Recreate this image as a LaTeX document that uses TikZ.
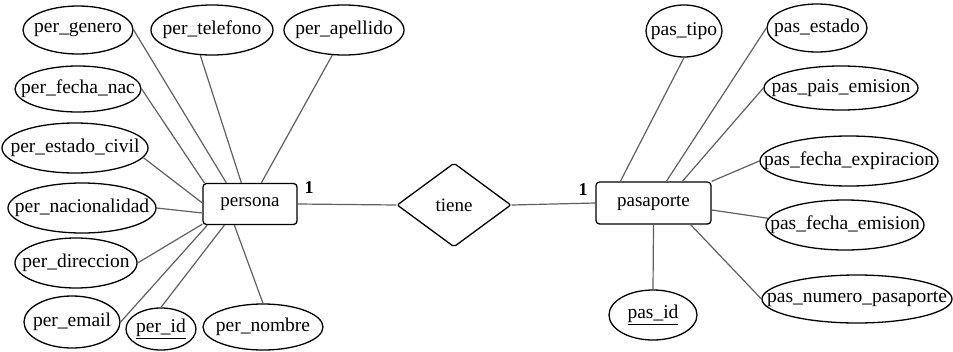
\documentclass[tikz,border=0pt]{standalone}
\usepackage{fontspec}
\setmainfont{Liberation Serif}
\usetikzlibrary{shapes.geometric}
\definecolor{edgegray}{HTML}{606060}
% attribute labels take no width, so each ellipse keeps exactly its given size
\newcommand\attrlabel[1]{\makebox[0pt][c]{#1}}
\begin{document}
\begin{tikzpicture}[x=1pt,y=-1pt,
  font=\fontsize{19pt}{22pt}\selectfont,
  attr/.style={ellipse,draw=black,line width=1.3pt,inner sep=0pt,font=\fontsize{19.5pt}{22pt}\selectfont},
  entity/.style={rectangle,draw=black,line width=1.3pt,rounded corners=3.5pt,inner sep=0pt},
  relation/.style={diamond,draw=black,line width=1.3pt,inner sep=0pt,rounded corners=2pt},
  link/.style={draw=edgegray,line width=1.2pt},
  card/.style={font=\fontsize{18pt}{20pt}\selectfont\bfseries,inner sep=0pt}]
\useasboundingbox (0,0) rectangle (953,351);

% entities and relationship
\node[entity,minimum width=94pt,minimum height=41pt] (persona) at (250,204) {persona};
\node[entity,minimum width=115pt,minimum height=42pt] (pasaporte) at (653.5,203) {pasaporte};
\node[relation,minimum width=114pt,minimum height=84pt] (tiene) at (454,205) {tiene};

% attributes of persona
\node[attr,minimum width=110pt,minimum height=48pt] (pgen) at (78,30) {\attrlabel{per\_genero}};
\node[attr,minimum width=122pt,minimum height=50pt] (ptel) at (212,30) {\attrlabel{per\_telefono}};
\node[attr,minimum width=120pt,minimum height=50pt] (pape) at (344,30) {\attrlabel{per\_apellido}};
\node[attr,minimum width=126pt,minimum height=46pt] (pfna) at (78,89) {\attrlabel{per\_fecha\_nac}};
\node[attr,minimum width=146pt,minimum height=50pt] (pciv) at (75,148) {\attrlabel{per\_estado\_civil}};
\node[attr,minimum width=148pt,minimum height=50pt] (pnac) at (82,208) {\attrlabel{per\_nacionalidad}};
\node[attr,minimum width=122pt,minimum height=50pt] (pdir) at (76,263) {\attrlabel{per\_direccion}};
\node[attr,minimum width=96pt,minimum height=52pt] (pema) at (72,322) {\attrlabel{per\_email}};
\node[attr,minimum width=70pt,minimum height=42pt] (pid) at (161,329) {\attrlabel{\underline{per\_id}}};
\node[attr,minimum width=120pt,minimum height=46pt] (pnom) at (263,327) {\attrlabel{per\_nombre}};

% attributes of pasaporte
\node[attr,minimum width=76pt,minimum height=52pt] (stip) at (684,31) {\attrlabel{pas\_tipo}};
\node[attr,minimum width=100pt,minimum height=48pt] (sest) at (817,28) {\attrlabel{pas\_estado}};
\node[attr,minimum width=154pt,minimum height=44pt] (spai) at (841,88) {\attrlabel{pas\_pais\_emision}};
\node[attr,minimum width=178pt,minimum height=50pt] (sexp) at (849,161) {\attrlabel{pas\_fecha\_expiracion}};
\node[attr,minimum width=158pt,minimum height=50pt] (semi) at (845,225) {\attrlabel{pas\_fecha\_emision}};
\node[attr,minimum width=190pt,minimum height=48pt] (snum) at (857,299) {\attrlabel{pas\_numero\_pasaporte}};
\node[attr,minimum width=88pt,minimum height=50pt] (sid) at (653,315) {\attrlabel{\underline{pas\_id}}};

% relationship lines and cardinalities
\draw[link] (persona.east) -- (tiene.west);
\draw[link] (tiene.east) -- (pasaporte.west);
\node[card] (c1) at (309,188) {1};
\node[card] (c2) at (583,190) {1};

% persona attribute links
\draw[link] (pgen.east) -- ([xshift=24pt]persona.north west);
\draw[link] (ptel.245) -- ([xshift=39pt]persona.north west);
\draw[link] (pape.245) -- ([xshift=59pt]persona.north west);
\draw[link] (pfna.east) -- ([xshift=2pt]persona.north west);
\draw[link] (pciv.-8) -- ([yshift=1pt]persona.west);
\draw[link] (pnac.east) -- ([yshift=-9pt]persona.west);
\draw[link] (pdir.east) -- ([yshift=1pt]persona.south west);
\draw[link] (pema.east) -- ([xshift=5pt]persona.south west);
\draw[link] (pid.north) -- ([xshift=22pt]persona.south west);
\draw[link] (pnom.north) -- ([xshift=32pt]persona.south west);

% pasaporte attribute links
\draw[link] (stip.south) -- ([xshift=25pt]pasaporte.north west);
\draw[link] (sest.west) -- ([xshift=71pt]pasaporte.north west);
\draw[link] (spai.west) -- ([xshift=87pt]pasaporte.north west);
\draw[link] (sexp.west) -- (pasaporte.north east);
\draw[link] (semi.175) -- ([yshift=-7pt]pasaporte.east);
\draw[link] (snum.west) -- ([xshift=-21pt]pasaporte.south east);
\draw[link] (sid.north) -- (pasaporte.south);
\end{tikzpicture}
\end{document}
